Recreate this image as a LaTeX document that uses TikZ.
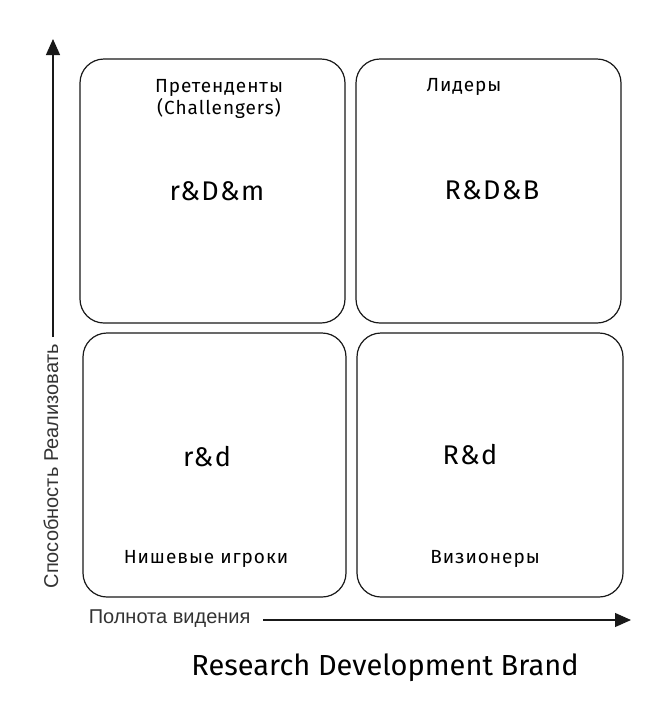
\documentclass[tikz,border=0pt]{standalone}
\usepackage{fontspec}
\setmainfont{Liberation Sans}
\newfontfamily\hand[LetterSpace=5]{Fira Sans}
\newfontfamily\handt{Fira Sans}
\usetikzlibrary{arrows.meta}
\begin{document}
\begin{tikzpicture}[x=1pt,y=-1pt,
  quad/.style={draw=black!90,line width=1.2pt,rounded corners=24pt},
  big/.style={font=\hand\fontsize{27}{30}\selectfont},
  small/.style={font=\hand\fontsize{19}{22}\selectfont,align=center},
  axislab/.style={font=\fontsize{20}{22}\selectfont,text=black!80},
  axis/.style={draw=black!90,line width=1.2pt,-{Triangle[length=16pt,width=14pt]}}]
\useasboundingbox (0,0) rectangle (669,724);
% quadrants
\draw[quad] (80,59) rectangle (345,323);
\draw[quad] (356,59) rectangle (621,323);
\draw[quad] (83,333) rectangle (346,597);
\draw[quad] (357,333) rectangle (623,597);
% texts
\node[small] (tl) at (219,99) {Претенденты\\(Challengers)};
\node[big] (tlm) at (217,191) {r\&D\&m};
\node[small] (tr) at (464,87) {Лидеры};
\node[big] (trm) at (492,190) {R\&D\&B};
\node[big] (blm) at (207,457) {r\&d};
\node[small] (bl) at (206,559) {Нишевые игроки};
\node[big] (brm) at (470,455) {R\&d};
\node[small] (br) at (485,559) {Визионеры};
% axes
\node[axislab,rotate=90] (ylab) at (51,466) {Способность Реализовать};
\coordinate (ys) at (53,337);
\coordinate (ye) at (53,39);
\draw[axis] (ys) -- (ye);
\node[axislab,anchor=east] (xlab) at (254,619) {Полнота видения};
\coordinate (xs) at (263,620);
\coordinate (xe) at (631,620);
\draw[axis] (xs) -- (xe);
\node[font=\handt\fontsize{29}{32}\selectfont] (title) at (385,668) {Research Development Brand};
\end{tikzpicture}
\end{document}
